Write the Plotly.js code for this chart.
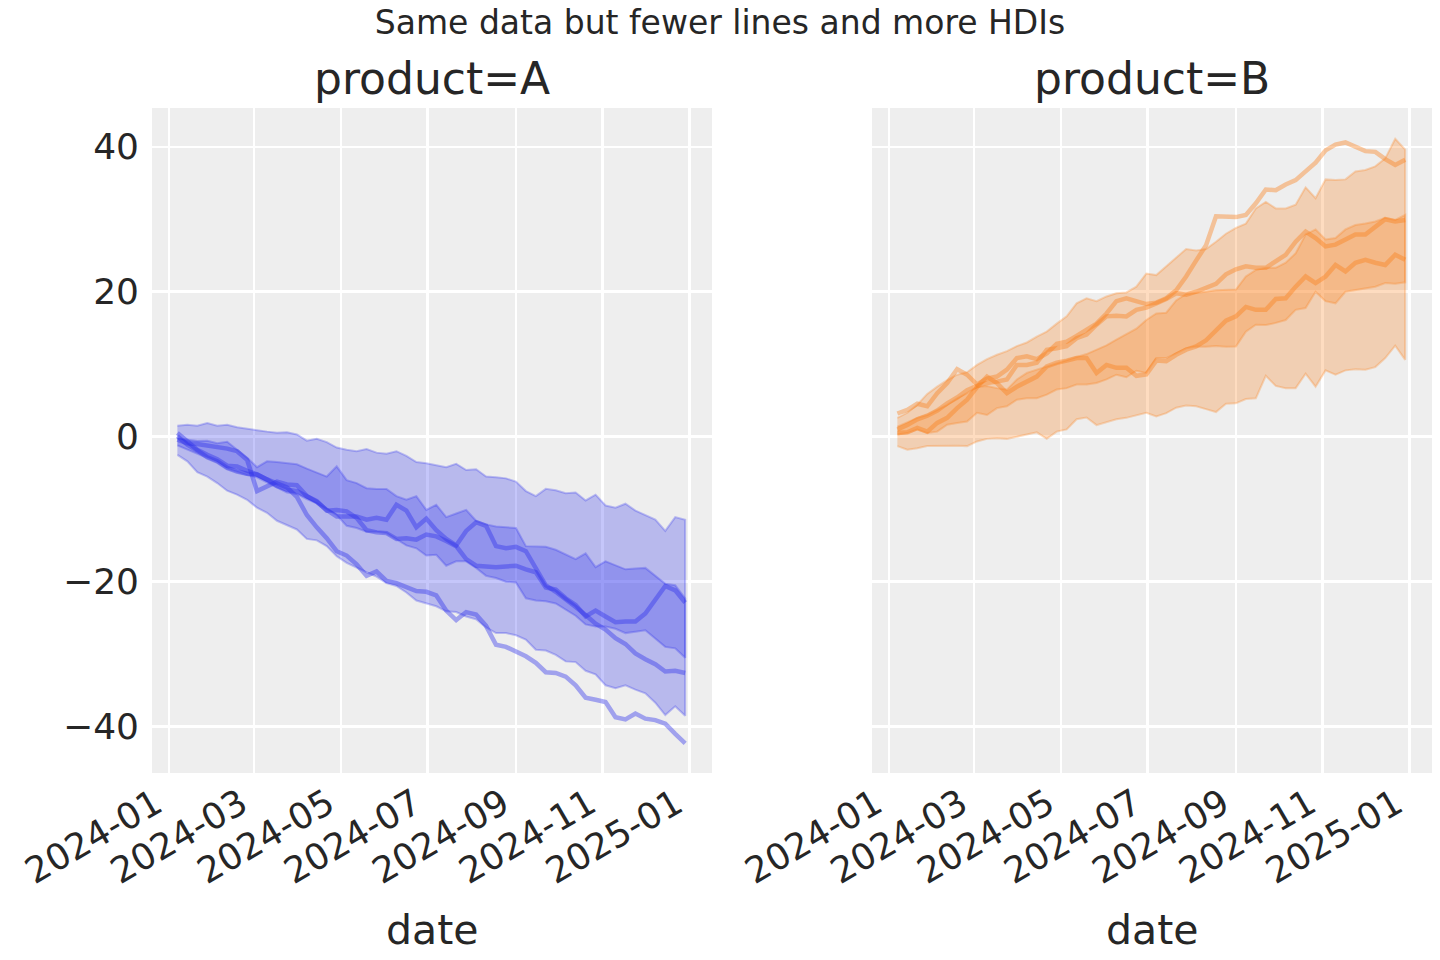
<!DOCTYPE html>
<html>
<head>
<meta charset="utf-8">
<script src="https://cdn.plot.ly/plotly-3.0.1.min.js"></script>
<style>html,body{margin:0;padding:0;background:#fff;}#chart{width:1440px;height:960px;}</style>
</head>
<body>
<div id="chart"></div>
<script>
// ---------- data ----------
const dates = ["2024-01-07","2024-01-14","2024-01-21","2024-01-28","2024-02-04","2024-02-11","2024-02-18","2024-02-25",
"2024-03-03","2024-03-10","2024-03-17","2024-03-24","2024-03-31","2024-04-07","2024-04-14","2024-04-21","2024-04-28",
"2024-05-05","2024-05-12","2024-05-19","2024-05-26","2024-06-02","2024-06-09","2024-06-16","2024-06-23","2024-06-30",
"2024-07-07","2024-07-14","2024-07-21","2024-07-28","2024-08-04","2024-08-11","2024-08-18","2024-08-25",
"2024-09-01","2024-09-08","2024-09-15","2024-09-22","2024-09-29","2024-10-06","2024-10-13","2024-10-20","2024-10-27",
"2024-11-03","2024-11-10","2024-11-17","2024-11-24","2024-12-01","2024-12-08","2024-12-15","2024-12-22","2024-12-29"];

const tickDates = ["2024-01-01","2024-03-01","2024-05-01","2024-07-01","2024-09-01","2024-11-01","2025-01-01"];
const tickLabels = ["2024-01","2024-03","2024-05","2024-07","2024-09","2024-11","2025-01"];
const yTicks = [-40,-20,0,20,40];
const panelTitles = ["product=A","product=B"];

// product A
const A_outer_hi = [1.5,1.65,1.5,1.9,1.5,1.65,1.3,1.05,0.9,0.7,0.55,0.6,0.3,-0.55,-0.3,-0.75,-1.5,-1.8,-2.0,-1.7,-2.2,-2.35,-2.0,-2.65,-3.5,-3.65,-3.9,-4.2,-3.75,-4.6,-4.5,-5.5,-5.6,-5.75,-6.2,-7.5,-8.2,-7.2,-7.4,-7.8,-7.7,-8.8,-8.0,-9.5,-9.8,-9.25,-10.2,-10.8,-11.45,-13.0,-11.1,-11.45];
const A_outer_lo = [-2.5,-3.4,-4.9,-5.5,-6.4,-7.45,-8.0,-8.7,-9.8,-10.5,-11.6,-12.2,-12.8,-14.1,-14.3,-15.1,-16.5,-17.4,-18.0,-18.7,-19.3,-20.2,-20.6,-21.5,-22.6,-23.0,-23.4,-24.1,-24.2,-24.8,-25.2,-26.3,-27.1,-27.1,-27.4,-28.0,-29.4,-29.5,-30.1,-31.0,-31.1,-32.3,-32.8,-34.3,-34.7,-34.3,-34.9,-35.4,-36.7,-38.4,-37.2,-38.5];
const A_inner_hi = [-0.2,-0.4,-0.6,-0.55,-0.9,-0.7,-1.8,-2.9,-4.2,-3.4,-3.5,-3.6,-3.8,-4.4,-5.0,-5.5,-4.1,-6.0,-6.4,-7.1,-7.2,-7.2,-8.2,-8.7,-8.2,-10.1,-9.4,-11.1,-10.6,-10.1,-11.6,-12.1,-12.4,-12.5,-12.6,-15.1,-15.1,-15.2,-15.6,-16.2,-16.9,-16.1,-18.0,-17.2,-17.8,-18.3,-18.2,-18.1,-19.2,-20.3,-20.5,-22.3];
const A_inner_lo = [-1.2,-1.8,-2.4,-2.9,-3.5,-4.4,-4.9,-5.3,-5.6,-6.2,-7.0,-7.7,-7.9,-8.6,-9.2,-10.0,-10.8,-12.3,-12.6,-13.1,-13.1,-13.3,-14.2,-15.0,-15.4,-16.4,-16.3,-17.8,-17.2,-17.2,-18.1,-19.2,-19.5,-20.0,-20.1,-22.3,-22.6,-22.7,-23.0,-23.8,-24.7,-25.9,-26.2,-26.2,-26.5,-27.1,-26.9,-26.7,-27.8,-29.0,-29.2,-30.5];
const A_line1 = [-0.4,-0.9,-1.0,-1.2,-1.5,-1.65,-2.0,-3.2,-7.5,-6.9,-6.2,-6.6,-6.7,-8.2,-9.0,-10.1,-11.0,-11.0,-11.0,-11.45,-11.2,-11.45,-9.4,-10.2,-12.5,-11.3,-12.9,-14.1,-15.0,-13.0,-11.8,-12.3,-15.1,-15.4,-15.2,-15.8,-18.2,-20.5,-21.4,-22.4,-23.5,-24.6,-25.8,-26.6,-27.8,-28.6,-29.9,-30.7,-31.4,-32.4,-32.3,-32.6];
const A_line2 = [0.05,-1.1,-1.9,-2.85,-3.4,-4.3,-4.8,-5.1,-5.2,-5.9,-6.8,-7.3,-7.5,-8.2,-8.9,-10.2,-10.1,-10.3,-11.2,-12.9,-13.2,-13.3,-14.1,-14.0,-14.2,-13.5,-13.75,-14.4,-15.1,-16.9,-17.8,-17.9,-18.0,-17.9,-17.8,-18.3,-18.7,-20.8,-21.1,-22.3,-23.2,-24.8,-24.0,-24.8,-25.6,-25.5,-25.5,-24.4,-22.4,-20.6,-21.2,-22.9];
const A_line3 = [0.5,-0.6,-1.8,-2.5,-3.1,-4.0,-4.1,-4.7,-5.2,-5.9,-6.5,-7.0,-8.3,-10.8,-12.5,-14.0,-15.8,-16.4,-17.6,-19.2,-18.6,-19.9,-20.2,-20.8,-21.3,-21.4,-21.9,-24.0,-25.3,-24.2,-24.55,-26.1,-28.7,-29.0,-29.6,-30.3,-31.2,-32.5,-32.6,-33.1,-34.3,-36.0,-36.3,-36.6,-38.7,-39.0,-38.2,-38.9,-39.1,-39.6,-41.0,-42.3];

// product B
const B_outer_hi = [2.6,3.3,4.4,5.9,6.9,7.8,8.55,8.9,9.9,10.7,11.3,11.8,12.5,13.0,13.8,14.5,15.6,16.6,18.4,19.1,18.7,19.35,19.8,19.9,20.7,22.5,22.3,23.5,24.8,25.9,25.7,25.9,26.9,28.0,28.8,29.4,31.5,32.4,31.5,31.5,32.0,34.4,32.9,35.5,35.4,35.5,36.6,36.8,37.3,38.4,41.1,39.6];
const B_outer_lo = [-1.3,-1.8,-1.6,-1.3,-1.25,-1.3,-1.25,-1.3,-0.65,-0.3,-0.2,-0.3,0.0,0.3,0.6,-0.3,0.7,1.0,2.4,2.65,1.6,1.95,2.4,2.6,2.9,3.3,2.8,3.25,4.0,4.3,4.2,3.8,3.4,4.55,4.6,5.2,5.3,8.4,7.0,6.7,6.7,8.7,6.9,9.15,8.55,9.15,9.3,9.25,9.6,10.85,12.55,10.6];
const B_inner_hi = [1.4,2.0,2.6,3.0,3.7,4.4,5.3,6.0,6.85,7.0,6.7,6.5,7.9,8.8,9.25,9.7,10.2,10.6,11.0,11.4,12.0,12.6,13.4,14.2,14.9,16.1,17.0,17.1,18.8,19.7,19.8,20.0,20.2,20.3,20.3,22.1,23.0,23.3,23.3,24.0,25.3,27.9,28.6,27.2,27.4,28.6,29.2,29.4,29.7,30.2,29.9,30.6];
const B_inner_lo = [0.3,0.5,1.0,0.5,0.7,1.65,1.9,2.1,3.3,3.0,3.95,4.2,5.1,5.3,5.3,5.8,6.5,6.7,7.2,7.2,7.4,7.9,8.55,8.2,9.1,8.8,10.85,10.85,11.5,12.2,12.45,12.4,12.5,12.4,12.45,14.5,15.45,15.4,15.7,16.1,17.5,17.75,20.0,18.7,18.4,20.0,20.3,20.5,20.7,21.2,21.1,21.3];
const B_line1 = [0.5,0.6,1.2,0.7,1.9,2.6,3.95,5.1,6.85,8.3,7.4,6.0,6.9,7.6,8.3,9.7,10.2,10.5,10.85,10.85,8.8,9.9,9.5,9.5,8.4,8.6,10.5,10.4,11.3,12.0,12.45,13.3,14.7,16.0,16.6,17.9,17.5,17.5,19.0,19.1,20.7,22.1,21.2,22.1,23.7,22.8,24.0,24.4,24.0,23.7,25.1,24.4];
const B_line2 = [1.0,1.6,2.4,2.9,3.6,4.6,5.4,6.4,7.0,7.4,7.6,7.9,9.9,9.9,10.2,12.0,12.2,12.5,13.6,14.1,15.45,16.6,16.7,16.6,17.5,17.8,18.4,19.0,19.8,19.6,20.0,20.6,21.1,22.4,23.1,23.5,23.3,23.3,24.2,25.1,26.9,28.3,27.4,26.25,26.5,27.2,27.9,27.9,29.0,30.0,29.7,29.9];
const B_line3 = [3.2,3.7,4.55,4.2,6.0,7.4,9.3,8.55,7.2,8.0,8.3,9.25,10.85,11.1,10.7,11.5,12.8,13.1,13.9,14.8,15.6,17.0,18.7,19.1,18.7,18.3,18.5,19.1,20.2,22.1,24.3,26.4,30.4,30.3,30.3,30.6,32.2,34.1,34.0,34.8,35.4,36.6,37.8,39.5,40.3,40.6,40.0,39.4,39.3,38.3,37.5,38.2];

// ---------- styling ----------
const BLUE = [42,46,236];
const ORANGE = [250,124,23];
const rgba = (c, a) => `rgba(${c[0]},${c[1]},${c[2]},${a})`;
const FILL_A = 0.27, EDGE_A = 0.27, LINE_A = 0.4;
const TXT = "#262626";
const FONT = "DejaVu Sans, Liberation Sans, sans-serif";

function band(lo, hi, col, xa, ya) {
  return {
    type: "scatter", mode: "lines", xaxis: xa, yaxis: ya,
    x: dates.concat(dates.slice().reverse()),
    y: hi.concat(lo.slice().reverse()),
    fill: "toself", fillcolor: rgba(col, FILL_A),
    line: {color: rgba(col, EDGE_A), width: 2},
    hoverinfo: "skip", showlegend: false
  };
}
function line(y, col, xa, ya) {
  return {
    type: "scatter", mode: "lines", xaxis: xa, yaxis: ya,
    x: dates, y: y,
    line: {color: rgba(col, LINE_A), width: 4.5},
    hoverinfo: "skip", showlegend: false
  };
}

const traces = [
  band(A_outer_lo, A_outer_hi, BLUE, "x", "y"),
  band(A_inner_lo, A_inner_hi, BLUE, "x", "y"),
  line(A_line1, BLUE, "x", "y"),
  line(A_line2, BLUE, "x", "y"),
  line(A_line3, BLUE, "x", "y"),
  band(B_outer_lo, B_outer_hi, ORANGE, "x2", "y2"),
  band(B_inner_lo, B_inner_hi, ORANGE, "x2", "y2"),
  line(B_line1, ORANGE, "x2", "y2"),
  line(B_line2, ORANGE, "x2", "y2"),
  line(B_line3, ORANGE, "x2", "y2")
];

const xRange = ["2023-12-20 03:36", "2025-01-16 20:24"];
function xax(domain, anchor) {
  return {
    domain: domain, anchor: anchor, type: "date", range: xRange,
    tickvals: tickDates, ticktext: tickLabels, tickangle: -30,
    tickfont: {size: 36, color: TXT, family: FONT},
    showgrid: true, gridcolor: "#ffffff", gridwidth: 2.5,
    zeroline: false, showline: false, ticks: "",
    ticklabelstandoff: 2, ticklabelshift: -13
  };
}
function yax(anchor, labels) {
  return {
    anchor: anchor, range: [-46.4, 45.35], tickvals: yTicks,
    tickfont: {size: 36, color: TXT, family: FONT},
    showticklabels: labels,
    showgrid: true, gridcolor: "#ffffff", gridwidth: 2.5,
    zeroline: false, showline: false, ticks: "", ticklabelstandoff: 12
  };
}

const annotations = [];
[["x domain","y domain"],["x2 domain","y2 domain"]].forEach((r, i) => {
  annotations.push({text: panelTitles[i], xref: r[0], yref: r[1], x: 0.5, y: 1.045,
    xanchor: "center", yanchor: "middle", showarrow: false,
    font: {size: 44, color: TXT, family: FONT}});
  annotations.push({text: "date", xref: r[0], yref: r[1], x: 0.5, y: -0.236,
    xanchor: "center", yanchor: "middle", showarrow: false,
    font: {size: 41, color: TXT, family: FONT}});
});

const layout = {
  width: 1440, height: 960,
  margin: {l: 152, r: 8, t: 108, b: 187},
  paper_bgcolor: "#ffffff", plot_bgcolor: "#eeeeee",
  font: {family: FONT, color: TXT},
  title: {text: "Same data but fewer lines and more HDIs", x: 0.5, xref: "container", xanchor: "center",
          y: 1 - 22/960, yref: "container", yanchor: "middle",
          font: {size: 33, color: TXT, family: FONT}},
  xaxis: xax([0, 0.4375], "y"),
  xaxis2: xax([0.5625, 1], "y2"),
  yaxis: yax("x", true),
  yaxis2: Object.assign(yax("x2", false), {matches: "y"}),
  annotations: annotations,
  showlegend: false
};

Plotly.newPlot("chart", traces, layout, {staticPlot: true, displayModeBar: false});
</script>
</body>
</html>
